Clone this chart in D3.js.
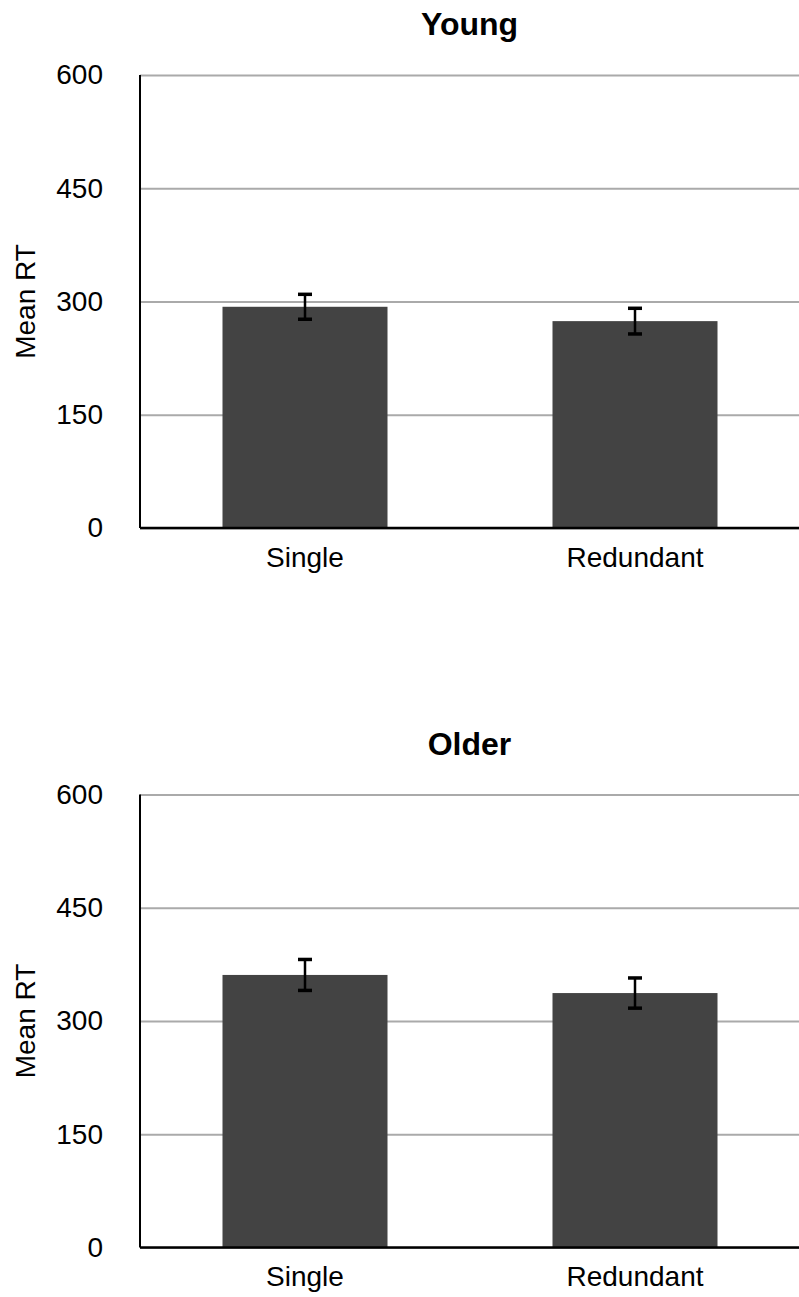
<!DOCTYPE html>
<html>
<head>
<meta charset="utf-8">
<script src="https://cdn.jsdelivr.net/npm/d3@7"></script>
<style>
  body { margin: 0; background: #fff; }
  text { font-family: "Liberation Sans", Arial, Helvetica, sans-serif; }
</style>
</head>
<body>
<div id="viz"></div>
<script>
const width = 799;
const height = 1297;
const margin = {left: 140, right: -1};
const plotHeight = 453;
const panelTops = [75, 794.5]; // y of the 600 gridline in each panel
const barColor = '#434343';
const gridColor = '#aaaaaa';

// Data
const panels = ['Young', 'Older'];
const conditions = ['Single', 'Redundant'];
const youngMeans = [293, 274];
const youngErrors = [16.5, 17];
const olderMeans = [361, 337];
const olderErrors = [20.5, 20];
const yTicks = [0, 150, 300, 450, 600];

const panelData = [
  {title: panels[0], means: youngMeans, errors: youngErrors},
  {title: panels[1], means: olderMeans, errors: olderErrors}
];

const svg = d3.select('#viz')
  .append('svg')
  .attr('width', width)
  .attr('height', height)
  .attr('viewBox', [0, 0, width, height]);

const xScale = d3.scaleBand()
  .domain(conditions)
  .range([margin.left, width - margin.right])
  .paddingInner(0.5)
  .paddingOuter(0.25);

panelData.forEach((p, i) => {
  const top = panelTops[i];
  const g = svg.append('g');

  const yScale = d3.scaleLinear()
    .domain([0, 600])
    .range([top + plotHeight, top]);

  // gridlines
  g.append('g')
    .attr('transform', `translate(${margin.left}, 0)`)
    .call(d3.axisRight(yScale)
      .tickValues(yTicks)
      .tickSize(width - margin.left)
      .tickFormat(''))
    .call(a => a.select('.domain').remove())
    .call(a => a.selectAll('line').attr('stroke', gridColor).attr('stroke-width', 2));

  // y tick labels
  g.append('g')
    .attr('transform', `translate(${margin.left}, 0)`)
    .call(d3.axisLeft(yScale)
      .tickValues(yTicks)
      .tickSize(0)
      .tickPadding(37))
    .call(a => a.select('.domain').remove())
    .call(a => a.selectAll('text')
      .attr('font-size', 28)
      .attr('fill', '#000')
      .style('font-family', '"Liberation Sans", Arial, Helvetica, sans-serif'));

  // bars
  g.selectAll('.bar')
    .data(conditions)
    .join('rect')
      .attr('class', 'bar')
      .attr('x', d => xScale(d))
      .attr('width', xScale.bandwidth())
      .attr('y', (d, j) => yScale(p.means[j]))
      .attr('height', (d, j) => yScale(0) - yScale(p.means[j]))
      .attr('fill', barColor);

  // error bars
  const errs = g.selectAll('.err')
    .data(conditions)
    .join('g')
      .attr('class', 'err')
      .attr('transform', d => `translate(${xScale(d) + xScale.bandwidth() / 2}, 0)`);

  errs.append('line')
    .attr('y1', (d, j) => yScale(p.means[j] + p.errors[j]))
    .attr('y2', (d, j) => yScale(p.means[j] - p.errors[j]))
    .attr('stroke', '#000')
    .attr('stroke-width', 2.5);

  errs.selectAll('.cap')
    .data((d, j) => [p.means[j] + p.errors[j], p.means[j] - p.errors[j]])
    .join('line')
      .attr('class', 'cap')
      .attr('x1', -7)
      .attr('x2', 7)
      .attr('y1', v => yScale(v))
      .attr('y2', v => yScale(v))
      .attr('stroke', '#000')
      .attr('stroke-width', 3.5);

  // x axis
  g.append('g')
    .attr('transform', `translate(0, ${yScale(0)})`)
    .call(d3.axisBottom(xScale).tickSize(0).tickPadding(19))
    .call(a => a.select('.domain')
      .attr('d', `M${margin.left},0H${width}`)
      .attr('stroke', '#000')
      .attr('stroke-width', 2.5))
    .call(a => a.selectAll('text')
      .attr('font-size', 28)
      .attr('fill', '#000')
      .style('font-family', '"Liberation Sans", Arial, Helvetica, sans-serif'));

  // y axis line
  g.append('line')
    .attr('x1', margin.left)
    .attr('x2', margin.left)
    .attr('y1', yScale(600))
    .attr('y2', yScale(0))
    .attr('stroke', '#000')
    .attr('stroke-width', 2);

  // y label
  g.append('text')
    .attr('transform', `translate(35, ${(yScale(0) + yScale(600)) / 2}) rotate(-90)`)
    .attr('text-anchor', 'middle')
    .attr('font-size', 28)
    .text('Mean RT');

  // title
  g.append('text')
    .attr('x', (margin.left + width) / 2)
    .attr('y', top - 40)
    .attr('text-anchor', 'middle')
    .attr('font-size', 32)
    .attr('font-weight', 'bold')
    .text(p.title);
});
</script>
</body>
</html>
